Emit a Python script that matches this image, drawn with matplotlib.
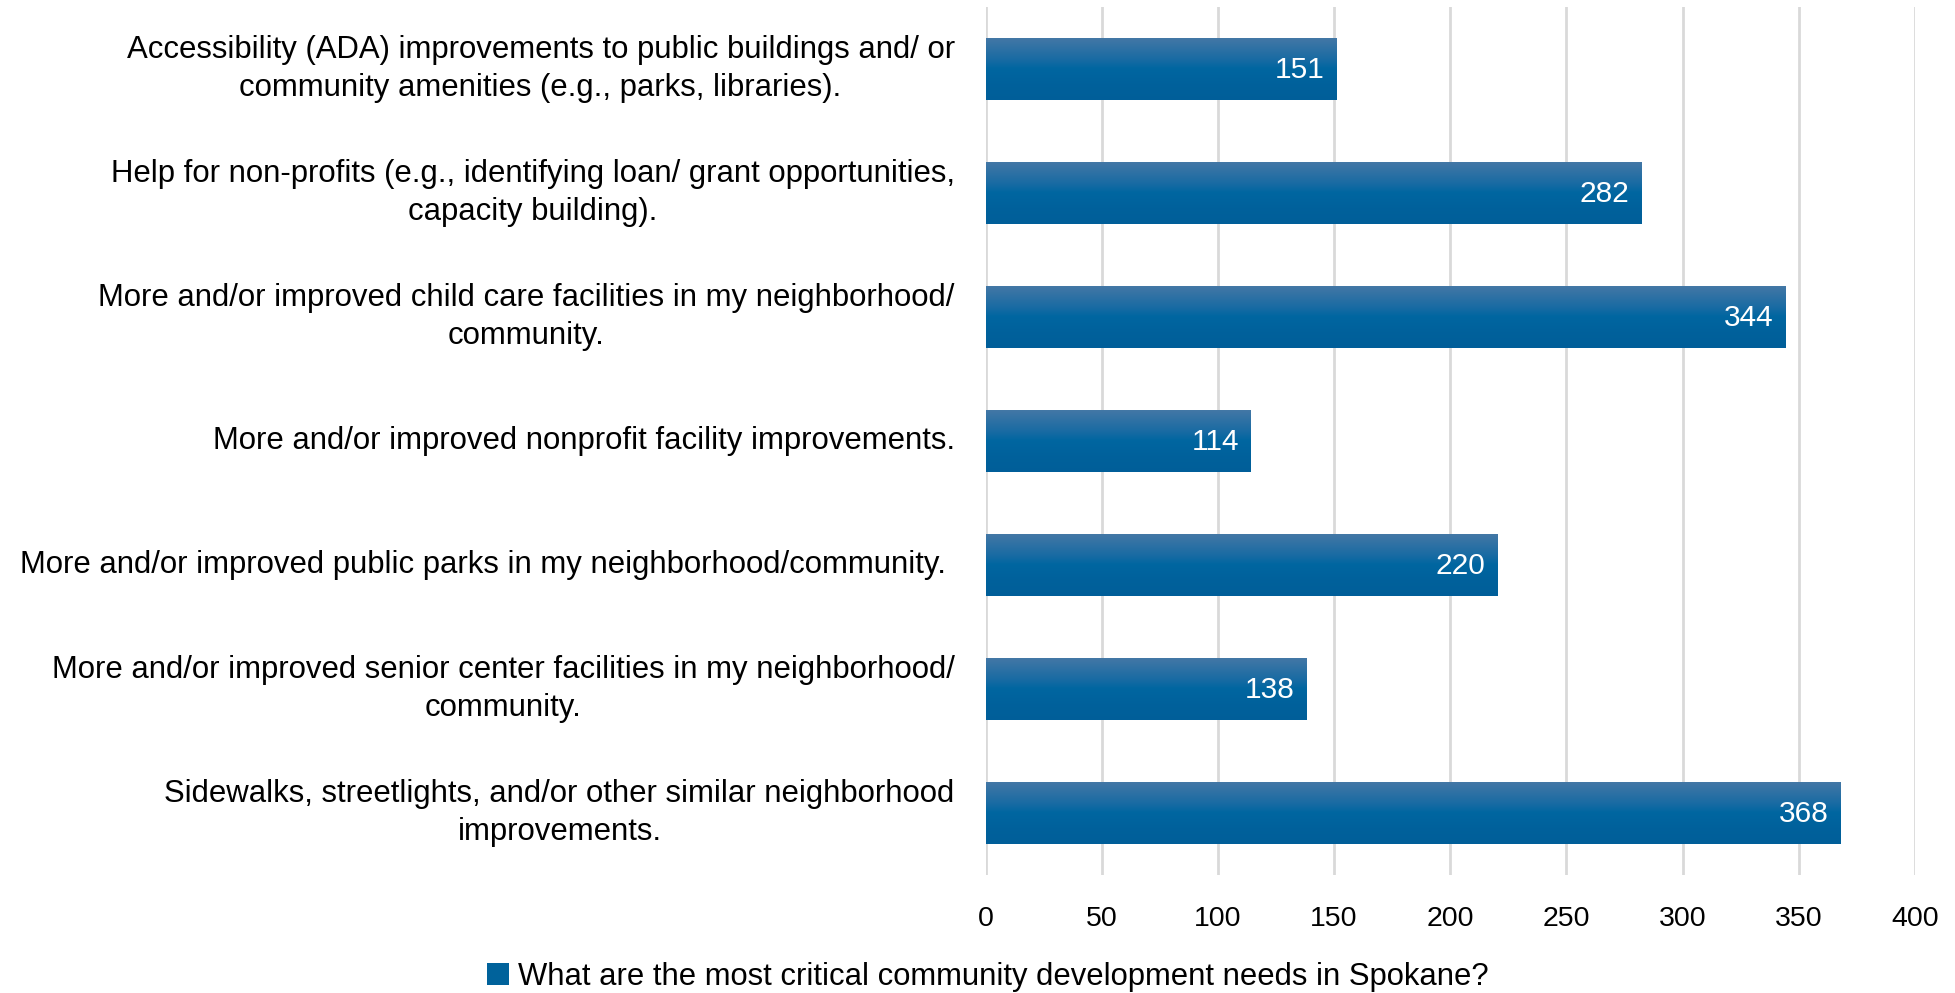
import matplotlib.pyplot as plt
import numpy as np
from matplotlib import font_manager
from matplotlib.transforms import ScaledTranslation

# data
categories = [
    "Accessibility (ADA) improvements to public buildings and/ or\ncommunity amenities (e.g., parks, libraries).",
    "Help for non-profits (e.g., identifying loan/ grant opportunities,\ncapacity building).",
    "More and/or improved child care facilities in my neighborhood/\ncommunity.",
    "More and/or improved nonprofit facility improvements.",
    "More and/or improved public parks in my neighborhood/community. ",
    "More and/or improved senior center facilities in my neighborhood/\ncommunity.",
    "Sidewalks, streetlights, and/or other similar neighborhood\nimprovements.",
]
values = [151, 282, 344, 114, 220, 138, 368]
series_name = "What are the most critical community development needs in Spokane?"
xticks = [0, 50, 100, 150, 200, 250, 300, 350, 400]

names = {f.name for f in font_manager.fontManager.ttflist}
fam = ['Liberation Sans Narrow', 'DejaVu Sans'] if 'Liberation Sans Narrow' in names else ['Liberation Sans', 'DejaVu Sans']
plt.rcParams['font.family'] = fam

fig = plt.figure(figsize=(19.56, 9.93), dpi=100)
ax = fig.add_axes([0.5039, 0.1188, 0.4751, 0.8742])

ypos = np.arange(len(categories))
bars = ax.barh(ypos, values, height=0.5, color='#00629b', zorder=2)

# vertical gradient on each bar (lighter at top)
grad = np.array([
    [0.27, 0.47, 0.65],
    [0.10, 0.42, 0.64],
    [0.00, 0.40, 0.63],
    [0.00, 0.38, 0.61],
    [0.00, 0.37, 0.60],
])
img = np.interp(np.linspace(0, 1, 100), [0, 0.35, 0.5, 0.75, 1], np.arange(5))
cols = np.array([[np.interp(t, np.arange(5), grad[:, c]) for c in range(3)] for t in img])
cols = cols.reshape(100, 1, 3)
for b in bars:
    x0, y0 = b.get_x(), b.get_y()
    w, h = b.get_width(), b.get_height()
    im = ax.imshow(cols, extent=(x0, x0 + w, y0 + h, y0), aspect='auto', zorder=3)
    im.set_clip_path(b)

for y, v in zip(ypos, values):
    ax.text(v - 5, y + 0.01, str(v), ha='right', va='center', color='white', fontsize=21.5, zorder=4)

ax.set_xlim(0, 400)
ax.set_ylim(len(categories) - 0.5, -0.5)
ax.set_xticks(xticks)
ax.set_xticklabels([str(t) for t in xticks], fontsize=20.5)
ax.set_yticks(ypos)
ax.tick_params(axis='y', length=0)
ax.tick_params(axis='x', length=0, pad=22)
ax.set_yticklabels([])
ax.grid(axis='x', color='#d9d9d9', linewidth=2, zorder=0)
ax.set_axisbelow(True)
for s in ax.spines.values():
    s.set_visible(False)

# category labels, right edge ~31 px left of the axis
shift = ScaledTranslation(-31 / 100, 0, fig.dpi_scale_trans)
for y, c in zip(ypos, categories):
    ax.text(0, y, c, ha='right', va='center', multialignment='center',
            fontsize=22.4, linespacing=1.32,
            transform=ax.get_yaxis_transform() + shift)

fig.legend([bars[0]], [series_name], loc='center', bbox_to_anchor=(0.505, 0.016),
           frameon=False, fontsize=22.3, handlelength=0.7, handleheight=0.7, handletextpad=0.3)

fig.savefig('out.png', dpi=100)
